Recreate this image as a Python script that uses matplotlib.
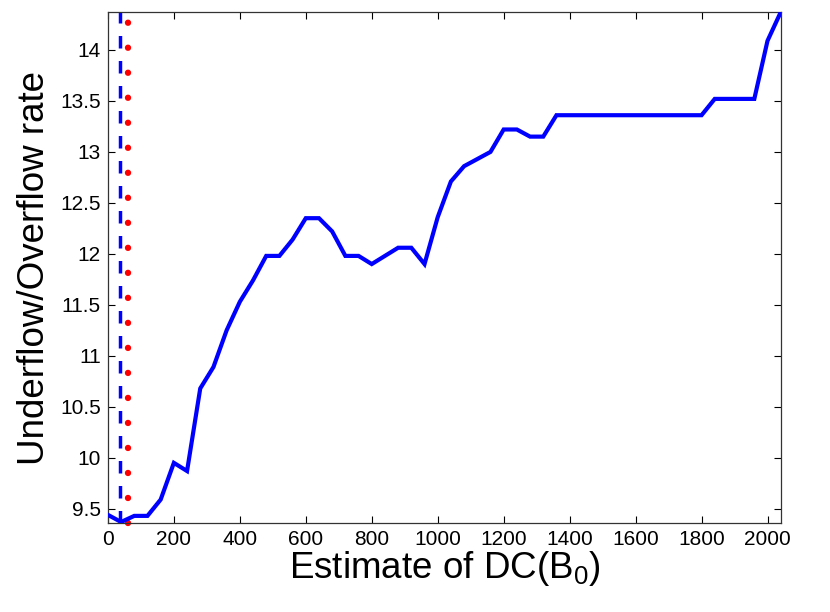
import matplotlib
matplotlib.use("Agg")
import matplotlib.pyplot as plt
from matplotlib.ticker import FixedLocator, FuncFormatter

plt.rcParams['font.family'] = ['Liberation Sans', 'DejaVu Sans']
plt.rcParams['lines.scale_dashes'] = False
plt.rcParams['mathtext.fontset'] = 'custom'
plt.rcParams['mathtext.rm'] = 'Liberation Sans'
plt.rcParams['mathtext.it'] = 'Liberation Sans:italic'
plt.rcParams['mathtext.bf'] = 'Liberation Sans:bold'

x_vals = [0, 40, 80, 120, 160, 200, 240, 280, 320, 360, 400, 440, 480, 520, 560,
          600, 640, 680, 720, 760, 800, 840, 880, 920, 960, 1000, 1040, 1080, 1120,
          1160, 1200, 1240, 1280, 1320, 1360, 1400, 1440, 1480, 1520, 1560, 1600,
          1640, 1680, 1720, 1760, 1800, 1840, 1880, 1920, 1960, 2000, 2040]
rate = [9.44, 9.37, 9.43, 9.43, 9.59, 9.95, 9.87, 10.68, 10.89, 11.25, 11.53, 11.74,
        11.98, 11.98, 12.14, 12.35, 12.35, 12.22, 11.98, 11.98, 11.90, 11.98, 12.06,
        12.06, 11.90, 12.36, 12.71, 12.86, 12.93, 13.00, 13.22, 13.22, 13.15, 13.15,
        13.36, 13.36, 13.36, 13.36, 13.36, 13.36, 13.36, 13.36, 13.36, 13.36, 13.36,
        13.36, 13.52, 13.52, 13.52, 13.52, 14.09, 14.37]
blue_vline_x = 37
red_vline_x = 60
x_ticks = [0, 200, 400, 600, 800, 1000, 1200, 1400, 1600, 1800, 2000]
y_ticks = [9.5, 10, 10.5, 11, 11.5, 12, 12.5, 13, 13.5, 14]

fig = plt.figure(figsize=(8.3, 6.12), dpi=100)
ax = fig.add_axes([0.130, 0.1454, 0.811, 0.8346])

ax.plot(x_vals, rate, color='#0000ff', lw=3.0, solid_joinstyle='miter', zorder=3)
ymin, ymax = 9.36, 14.37
ax.plot([blue_vline_x, blue_vline_x], [ymin, ymax], color='#0000ff', lw=2.5,
        dashes=(9, 9), dash_capstyle='butt', zorder=2)
ax.plot([red_vline_x, red_vline_x], [ymin, ymax], color='#ff0000', lw=4.6,
        dashes=(0.01, 18), dash_capstyle='round', zorder=2, clip_on=False)

ax.set_xlim(0, 2041)
ax.set_ylim(ymin, ymax)
ax.xaxis.set_major_locator(FixedLocator(x_ticks))
ax.yaxis.set_major_locator(FixedLocator(y_ticks))
ax.yaxis.set_major_formatter(FuncFormatter(lambda v, p: '%g' % v))
ax.tick_params(direction='in', length=5, width=0.8, labelsize=15,
               top=True, right=True, colors='black', pad=5)
for s in ax.spines.values():
    s.set_linewidth(0.9)
    s.set_color('#333333')

ax.set_xlabel('Estimate of DC(B$_{\\mathregular{0}}$)', fontsize=26.5, labelpad=0)
ax.set_ylabel('Underflow/Overflow rate', fontsize=26.5, labelpad=6)
fig.savefig('out.png', dpi=100)
